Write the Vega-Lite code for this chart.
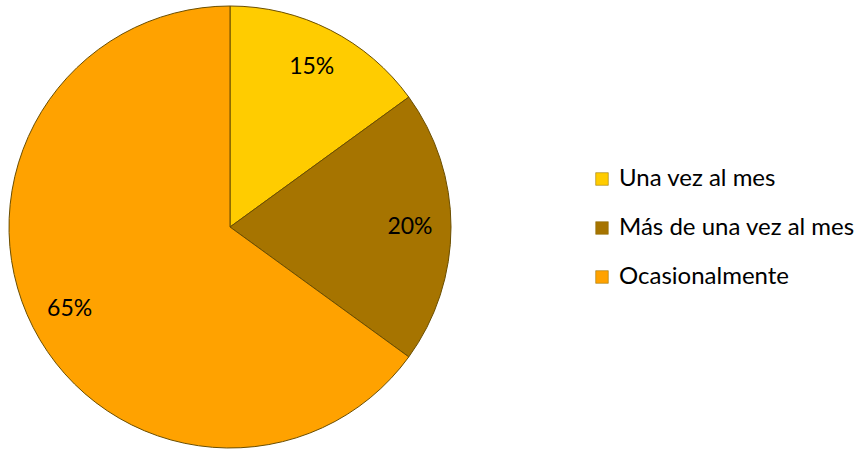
{
  "$schema": "https://vega.github.io/schema/vega-lite/v6.json",
  "width": 460,
  "height": 450,
  "autosize": "none",
  "padding": {"left": 0, "top": 2, "right": 396, "bottom": 0},
  "background": "white",
  "config": {"view": {"stroke": null}, "font": "Lato"},
  "data": {"values": [
    {"categoria": "Una vez al mes", "valor": 15, "orden": 1, "etiqueta": "15%"},
    {"categoria": "Más de una vez al mes", "valor": 20, "orden": 2, "etiqueta": "20%"},
    {"categoria": "Ocasionalmente", "valor": 65, "orden": 3, "etiqueta": "65%"}
  ]},
  "encoding": {
    "theta": {"field": "valor", "type": "quantitative", "stack": true},
    "order": {"field": "orden", "type": "quantitative"},
    "color": {
      "field": "categoria",
      "type": "nominal",
      "sort": ["Una vez al mes", "Más de una vez al mes", "Ocasionalmente"],
      "scale": {
        "domain": ["Una vez al mes", "Más de una vez al mes", "Ocasionalmente"],
        "range": ["#FFCC00", "#A67400", "#FFA200"]
      },
      "legend": {
        "title": null,
        "orient": "none",
        "legendX": 590,
        "legendY": 165,
        "symbolType": "square",
        "symbolSize": 160,
        "symbolStrokeColor": "#8a6a00",
        "symbolStrokeWidth": 0.5,
        "labelFontSize": 24,
        "labelFont": "Lato",
        "labelColor": "#000000",
        "labelOffset": 5,
        "rowPadding": 25,
        "labelLimit": 400
      }
    }
  },
  "layer": [
    {
      "mark": {"type": "arc", "outerRadius": 221, "stroke": "#6b4e00", "strokeWidth": 1}
    },
    {
      "mark": {"type": "text", "radius": 180, "fontSize": 23, "font": "Lato", "color": "#000000"},
      "encoding": {
        "text": {"field": "etiqueta", "type": "nominal"},
        "color": {"value": "#000000"}
      }
    }
  ]
}
